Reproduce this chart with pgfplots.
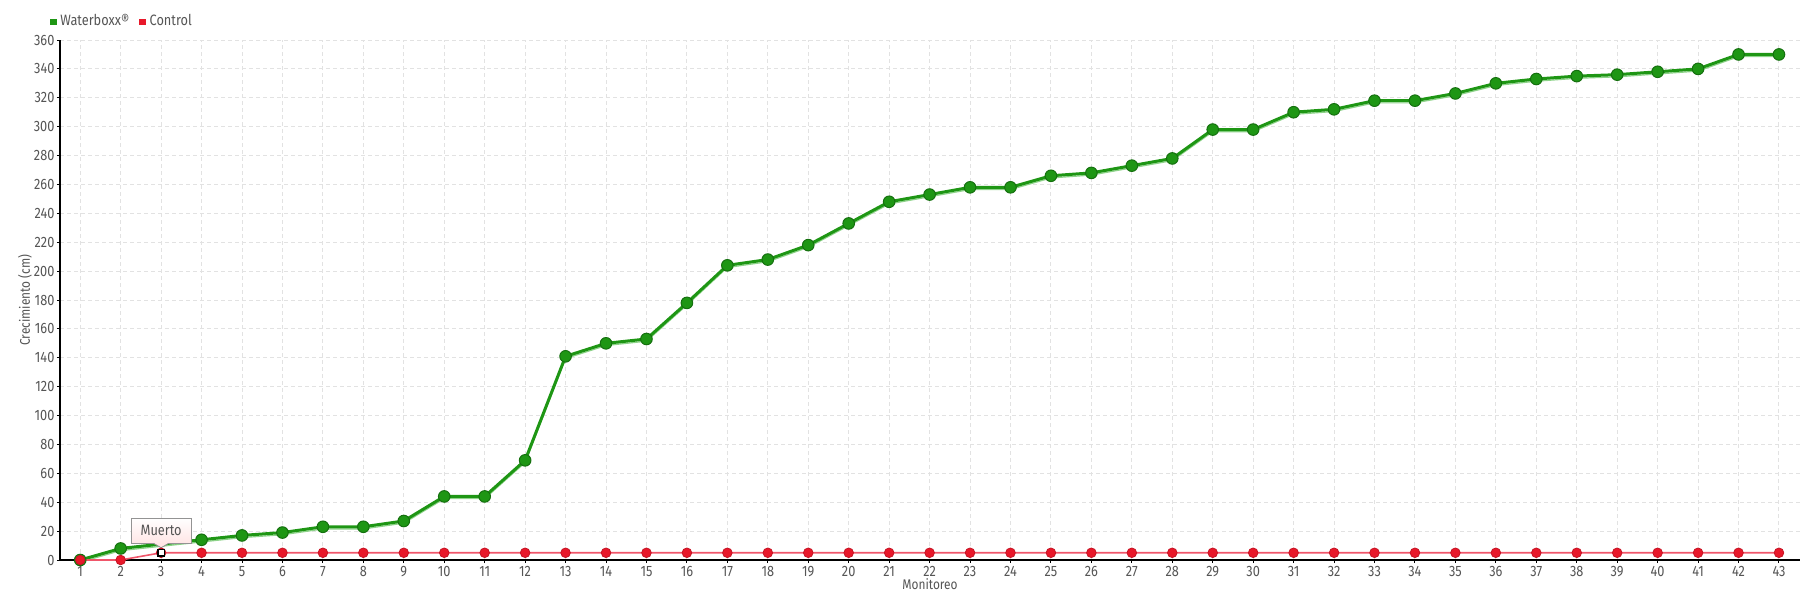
\documentclass[border=0pt]{standalone}
\usepackage{fontspec}
\setmainfont{Fira Sans}[FakeStretch=0.85]
\usepackage{pgfplots}
\usepackage{pgfplotstable}
\pgfplotsset{compat=1.18}
\definecolor{wbgreen}{HTML}{1E9614}
\definecolor{wbdark}{HTML}{15700F}
\definecolor{wblight}{HTML}{8ED38A}
\definecolor{ctred}{HTML}{E8182A}
\definecolor{ctline}{HTML}{F0566A}
\definecolor{txt}{HTML}{555555}
\definecolor{gridc}{HTML}{E2E2E2}

% m = monitoreo, w = Waterboxx, c = Control
\pgfplotstableread{
m w c
1 0 0
2 8 0
3 11 5
4 14 5
5 17 5
6 19 5
7 23 5
8 23 5
9 27 5
10 44 5
11 44 5
12 69 5
13 141 5
14 150 5
15 153 5
16 178 5
17 204 5
18 208 5
19 218 5
20 233 5
21 248 5
22 253 5
23 258 5
24 258 5
25 266 5
26 268 5
27 273 5
28 278 5
29 298 5
30 298 5
31 310 5
32 312 5
33 318 5
34 318 5
35 323 5
36 330 5
37 333 5
38 335 5
39 336 5
40 338 5
41 340 5
42 350 5
43 350 5
}\data

\begin{document}
\begin{tikzpicture}[x=1pt,y=1pt]
\useasboundingbox (-30,-20) rectangle (880,280);
\begin{axis}[
  at={(0,0)}, anchor=south west,
  scale only axis, width=870pt, height=260pt,
  xmin=0.5, xmax=43.52, ymin=0, ymax=360,
  xtick={1,...,43}, ytick={0,20,...,360},
  axis x line*=bottom, axis y line*=left,
  axis line style={black, line width=0.6pt},
  tick style={black, line width=0.5pt},
  tick align=outside, major tick length=1.6pt,
  grid=major,
  major grid style={gridc, dash pattern=on 2pt off 1.5pt, line width=0.5pt},
  /pgf/number format/assume math mode=true,
  ticklabel style={font=\fontsize{7.5}{9}\selectfont, text=txt},
  yticklabel style={inner sep=1pt},
  xticklabel style={inner sep=1.5pt},
  xlabel={Monitoreo}, ylabel={Crecimiento (cm)},
  every axis x label/.style={at={(axis description cs:0.5,-0.046)}, anchor=center,
    font=\fontsize{7}{8}\selectfont, text=txt},
  every axis y label/.style={at={(axis description cs:-0.0201,0.5)}, anchor=center,
    rotate=90, font=\fontsize{7}{8}\selectfont, text=txt},
  legend style={at={(axis description cs:-0.006,1.035)}, anchor=west,
    draw=none, fill=none, inner sep=0pt, legend columns=2,
    font=\fontsize{7.5}{9}\selectfont, text=txt,
    /tikz/every even column/.append style={column sep=3pt}},
  legend cell align=left,
  clip=false,
]
\addlegendimage{legend image code/.code={\fill[wbgreen] (0pt,-1.4pt) rectangle (2.8pt,1.4pt);}}
\addlegendentry{Waterboxx®}
\addlegendimage{legend image code/.code={\fill[ctred] (0pt,-1.4pt) rectangle (2.8pt,1.4pt);}}
\addlegendentry{Control}

\addplot[wblight, line width=0.6pt, yshift=-1.1pt, forget plot] table[x=m,y=w] {\data};
\addplot[wbgreen, line width=1.5pt, forget plot] table[x=m,y=w] {\data};
% the marker at point 3 is hidden by the tooltip in the original
\addplot[only marks, mark=*, mark size=2.9pt,
  mark options={fill=wbgreen, draw=wbdark, line width=0.5pt}, forget plot,
  skip coords between index={2}{3}] table[x=m,y=w] {\data};
\addplot[ctline, line width=0.8pt, mark=*, mark size=2.4pt,
  mark options={fill=ctred, draw=ctred!85!black, line width=0.4pt}, forget plot] table[x=m,y=c] {\data};

\node[draw=gray!85, top color=white, bottom color=red!10, inner sep=0pt,
  minimum width=30pt, minimum height=12.5pt, font=\fontsize{7.5}{9}\selectfont, text=txt]
  (tt) at (axis cs:3,20.2) {Muerto};
\fill[red!10] ([xshift=-3.5pt,yshift=0.3pt]tt.south) -- (axis cs:3,8.5) -- ([xshift=3.5pt,yshift=0.3pt]tt.south) -- cycle;
\draw[gray!85, line width=0.4pt] ([xshift=-3.5pt]tt.south) -- (axis cs:3,8.5) -- ([xshift=3.5pt]tt.south);
\addplot[only marks, mark=square*, mark size=1.6pt,
  mark options={fill=white, draw=black, line width=0.6pt}, forget plot] coordinates {(3,5)};
\end{axis}
\end{tikzpicture}
\end{document}
